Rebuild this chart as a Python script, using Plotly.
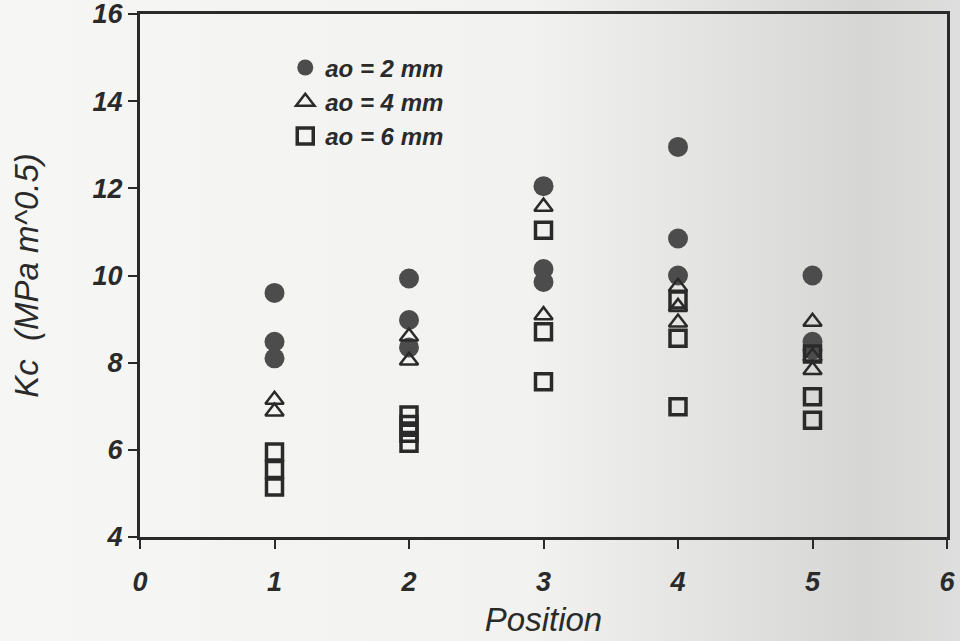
import base64
import plotly.graph_objects as go

# Data (Position, Kc)
pos_2mm = [1, 1, 1, 2, 2, 2, 3, 3, 3, 4, 4, 4, 5, 5, 5]
kc_2mm = [9.6, 8.48, 8.1, 9.93, 8.98, 8.35, 12.05, 10.15, 9.85, 12.95, 10.85, 10.0, 10.0, 8.48, 8.29]

pos_4mm = [1, 1, 2, 2, 3, 3, 4, 4, 4, 5, 5, 5]
kc_4mm = [7.15, 6.88, 8.6, 8.05, 11.58, 9.09, 9.74, 9.28, 8.92, 8.94, 8.14, 7.83]

pos_6mm = [1, 1, 1, 2, 2, 2, 2, 3, 3, 3, 4, 4, 4, 5, 5, 5]
kc_6mm = [5.95, 5.55, 5.15, 6.8, 6.58, 6.38, 6.15, 11.04, 8.71, 7.56, 9.44, 8.56, 6.99, 8.2, 7.22, 6.68]

legend_names = ["ao = 2 mm", "ao = 4 mm", "ao = 6 mm"]
x_ticks = [0, 1, 2, 3, 4, 5, 6]
y_ticks = [4, 6, 8, 10, 12, 14, 16]

FONT = "Liberation Sans, Arial, sans-serif"
INK = "#2a2a2a"

# scanned-paper background: light on the left, greyer towards the right
svg = (
    '<svg xmlns="http://www.w3.org/2000/svg" width="960" height="641" preserveAspectRatio="none">'
    '<defs><linearGradient id="g" x1="0" y1="0" x2="1" y2="0">'
    '<stop offset="0" stop-color="#f6f6f4"/>'
    '<stop offset="0.55" stop-color="#f2f2f0"/>'
    '<stop offset="0.75" stop-color="#e2e2e0"/>'
    '<stop offset="0.9" stop-color="#d6d6d4"/>'
    '<stop offset="1" stop-color="#dedede"/>'
    '</linearGradient></defs>'
    '<rect width="960" height="641" fill="url(#g)"/></svg>'
)
bg_uri = "data:image/svg+xml;base64," + base64.b64encode(svg.encode()).decode()

fig = go.Figure()
fig.add_trace(go.Scatter(
    x=pos_2mm, y=kc_2mm, mode="markers", name=legend_names[0],
    marker=dict(symbol="circle", size=20, color="#4c4c4c", line=dict(width=0))))
fig.add_trace(go.Scatter(
    x=pos_4mm, y=kc_4mm, mode="markers", name=legend_names[1],
    marker=dict(symbol="triangle-up-open", size=16, color=INK, line=dict(width=2.5))))
fig.add_trace(go.Scatter(
    x=pos_6mm, y=kc_6mm, mode="markers", name=legend_names[2],
    marker=dict(symbol="square-open", size=16, color=INK, line=dict(width=3.5))))

fig.update_layout(
    width=960, height=641,
    margin=dict(l=140, r=13, t=14, b=104, autoexpand=False),
    paper_bgcolor="#f3f3f1", plot_bgcolor="rgba(0,0,0,0)",
    font=dict(family=FONT, color=INK),
    images=[dict(source=bg_uri, xref="paper", yref="paper", x=-140/807, y=1 + 14/523,
                 sizex=960/807, sizey=641/523, sizing="stretch",
                 xanchor="left", yanchor="top", layer="below")],
    showlegend=True,
    legend=dict(x=0.18, y=0.94, xanchor="left", yanchor="top",
                bgcolor="rgba(0,0,0,0)",
                font=dict(family=FONT, size=24, color=INK, style="italic", weight="bold"),
                itemsizing="trace", tracegroupgap=0),
    xaxis=dict(range=[0, 6], tickvals=x_ticks, ticktext=[str(v) for v in x_ticks],
               automargin=False, ticklabeloverflow="allow", ticklabelstandoff=10,
               showgrid=False, zeroline=False, showline=True, linecolor=INK, linewidth=3,
               mirror=True, ticks="outside", ticklen=9, tickwidth=2, tickcolor=INK,
               tickfont=dict(family=FONT, size=27, style="italic", weight="bold", color=INK),
               title=dict(text="Position", standoff=12,
                          font=dict(family=FONT, size=33, style="italic", color=INK))),
    yaxis=dict(range=[4, 16], tickvals=y_ticks, ticktext=[str(v) for v in y_ticks],
               automargin=False, ticklabeloverflow="allow",
               showgrid=False, zeroline=False, showline=True, linecolor=INK, linewidth=3,
               mirror=True, ticks="outside", ticklen=9, tickwidth=2, tickcolor=INK,
               tickfont=dict(family=FONT, size=27, style="italic", weight="bold", color=INK),
               title=dict(text="Kc  (MPa m^0.5)", standoff=45,
                          font=dict(family=FONT, size=33, style="italic", color=INK))),
)

fig.write_html("out.html")
